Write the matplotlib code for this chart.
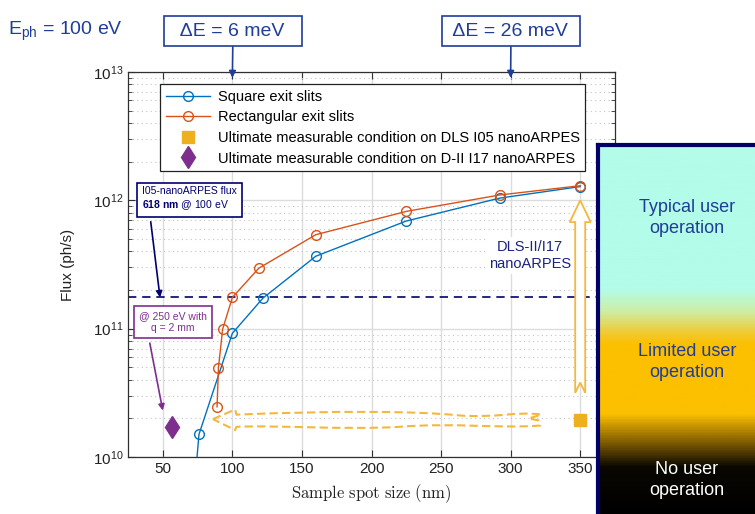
import matplotlib
matplotlib.use('Agg')
import numpy as np
import matplotlib.pyplot as plt
from matplotlib.colors import LinearSegmentedColormap
from matplotlib.patches import Polygon, PathPatch
from matplotlib.path import Path

plt.rcParams['font.family'] = ['Liberation Sans', 'DejaVu Sans']
plt.rcParams['mathtext.fontset'] = 'custom'
plt.rcParams['mathtext.rm'] = 'Liberation Sans'
plt.rcParams['mathtext.bf'] = 'Liberation Sans:bold'
plt.rcParams['mathtext.it'] = 'Liberation Sans:italic'

# data (spot size in nm, flux in ph/s)
square_x = [70, 76, 100, 122, 160, 225, 292, 350]
square_flux = [2.6e9, 1.5e10, 9.2e10, 1.73e11, 3.67e11, 6.9e11, 1.04e12, 1.28e12]
rect_x = [89, 90, 93, 100, 119, 160, 225, 292, 350]
rect_flux = [2.46e10, 4.95e10, 9.9e10, 1.75e11, 2.96e11, 5.4e11, 8.2e11, 1.1e12, 1.3e12]
i05_x = [350]
i05_flux = [1.94e10]
i17_x = [56.5]
i17_flux = [1.71e10]
i05_618nm_flux = 1.75e11
xticks = [50, 100, 150, 200, 250, 300, 350]

BLUE = '#0072BD'
ORANGE = '#D95319'
GOLD = '#EDB120'
PURPLE = '#7E2F8E'
NAVY = '#000070'
TXT_BLUE = '#1f3d99'
ARROW_GOLD = '#f3b83c'

W, H = 755, 514


def fx(px):
    return px / W


def fy(py):
    return 1 - py / H


fig = plt.figure(figsize=(W / 100, H / 100), dpi=100)
ax = fig.add_axes([fx(128), fy(457), (615 - 128) / W, (457 - 72) / H])

ax.set_yscale('log')
ax.set_xlim(25, 375)
ax.set_ylim(1e10, 1e13)
ax.set_xticks(xticks)

ax.grid(True, which='major', color='#dcdcdc', lw=1.0, ls='-')
ax.grid(True, which='minor', axis='y', color='#c4c4c4', lw=0.8, ls=(0, (1, 3)))
ax.set_axisbelow(True)

ax.plot(square_x, square_flux, '-o', color=BLUE, lw=1.0, ms=7, mfc='none',
        mew=1.0, label='Square exit slits')
ax.plot(rect_x, rect_flux, '-o', color=ORANGE, lw=1.0, ms=7, mfc='none',
        mew=1.0, label='Rectangular exit slits')
ax.plot(i05_x, i05_flux, 's', color=GOLD, ms=9, ls='none',
        label='Ultimate measurable condition on DLS I05 nanoARPES')
ax.plot(i17_x, i17_flux, 'd', color=PURPLE, ms=11.5, ls='none',
        label='Ultimate measurable condition on D-II I17 nanoARPES')

ax.axhline(i05_618nm_flux, color=NAVY, ls='--', lw=1.2, dashes=(5, 3.5), zorder=1.5)

# vertical hollow arrow at 350 nm
arr_x = [350, 357.5, 353.6, 353.6, 350, 346.4, 346.4, 342.5]
arr_y = [12.0, 11.83, 11.83, 10.5, 10.58, 10.5, 11.83, 11.83]
ax.add_patch(Polygon(np.column_stack([arr_x, 10 ** np.array(arr_y)]), closed=True,
                     fc='white', ec=ARROW_GOLD, lw=1.3, zorder=2.5))

# wavy dashed arrow pointing to smaller spots
verts = [(86, 10.295), (102, 10.37), (103, 10.33),
         (170, 10.36), (230, 10.36), (262, 10.325),
         (290, 10.30), (305, 10.36), (322, 10.33),
         (313, 10.30), (320, 10.285), (321, 10.245),
         (290, 10.22), (260, 10.27), (220, 10.235),
         (180, 10.21), (130, 10.25), (103, 10.235),
         (102, 10.21), (86, 10.295)]
codes = [Path.MOVETO, Path.LINETO, Path.LINETO,
         Path.CURVE4, Path.CURVE4, Path.CURVE4,
         Path.CURVE4, Path.CURVE4, Path.CURVE4,
         Path.LINETO, Path.LINETO, Path.LINETO,
         Path.CURVE4, Path.CURVE4, Path.CURVE4,
         Path.CURVE4, Path.CURVE4, Path.CURVE4,
         Path.LINETO, Path.CLOSEPOLY]
verts = [(vx, 10 ** vy) for vx, vy in verts]
ax.add_patch(PathPatch(Path(verts, codes), fc='none', ec=ARROW_GOLD, lw=1.5,
                       ls=(0, (4, 2)), zorder=2.5, joinstyle='miter'))

for side in ['top', 'bottom', 'left', 'right']:
    ax.spines[side].set_color('#303030')
    ax.spines[side].set_linewidth(0.9)
ax.tick_params(which='both', direction='in', top=True, right=True,
               labelsize=11, colors='#303030', labelcolor='#222222')
ax.tick_params(which='major', length=5)
ax.tick_params(which='minor', length=3)

ax.set_ylabel('Flux (ph/s)', fontsize=11, color='#222222')
ax.yaxis.set_label_coords((75 - 128) / 487, 0.5)
ax.set_xlabel(r'$\mathrm{Sample\ spot\ size\ (nm)}$', fontsize=12,
              math_fontfamily='cm', color='#222222')
ax.xaxis.set_label_coords(0.5, -(482 - 457) / 385)

leg = ax.legend(loc='upper left', bbox_to_anchor=((160 - 128) / 487, (457 - 84) / 385),
                borderaxespad=0, fontsize=10.5, handlelength=3.0, handletextpad=0.55,
                labelspacing=0.45, borderpad=0.4, fancybox=False, framealpha=1,
                edgecolor='#222222')
leg.get_frame().set_linewidth(0.9)

# header texts and boxes
fig.text(fx(8), fy(31), r'E$_{\mathrm{ph}}$ = 100 eV', fontsize=14, color=TXT_BLUE,
         ha='left', va='center')
for label, xv, xc in [('  ΔE = 6 meV  ', 100, 233), (' ΔE = 26 meV ', 300, 511)]:
    ax.annotate(label, xy=(xv, 9.0e12), xycoords='data',
                xytext=(fx(xc), fy(31)), textcoords='figure fraction',
                ha='center', va='center', fontsize=14, color=TXT_BLUE,
                bbox=dict(boxstyle='square,pad=0.35', fc='white', ec=TXT_BLUE, lw=1.2),
                arrowprops=dict(arrowstyle='-|>', color=TXT_BLUE, lw=1.2,
                                mutation_scale=10, shrinkA=0, shrinkB=0),
                annotation_clip=False)

ax.annotate('I05-nanoARPES flux\n' + r'$\mathbf{618\ nm}$ @ 100 eV',
            xy=(48, i05_618nm_flux), xycoords='data',
            xytext=(fx(142), fy(199)), textcoords='figure fraction',
            ha='left', va='center', fontsize=7.5, color=NAVY, linespacing=1.3,
            bbox=dict(boxstyle='square,pad=0.45', fc='white', ec=NAVY, lw=1.2),
            arrowprops=dict(arrowstyle='-|>', color=NAVY, lw=1.2, mutation_scale=9,
                            relpos=(0.08, 0.0), shrinkA=3, shrinkB=0),
            zorder=6)

ax.annotate('@ 250 eV with\nq = 2 mm', xy=(50, 2.3e10), xycoords='data',
            xytext=(fx(173), fy(322)), textcoords='figure fraction',
            ha='center', va='center', fontsize=7.5, color=PURPLE, linespacing=1.3,
            bbox=dict(boxstyle='square,pad=0.5', fc='white', ec=PURPLE, lw=1.2),
            arrowprops=dict(arrowstyle='-|>', color=PURPLE, lw=1.2, mutation_scale=9,
                            relpos=(0.13, 0.0), shrinkA=3, shrinkB=0),
            zorder=6)

ax.text(314, 3.7e11, 'DLS-II/I17\nnanoARPES', fontsize=10.5, color='#1a237e',
        ha='center', va='center', linespacing=1.3,
        bbox=dict(boxstyle='square,pad=0.2', fc='white', ec='none'), zorder=3)

# operation regime panel on the right
cax = fig.add_axes([fx(598), 0, 1 - fx(598), fy(145)], zorder=10)
cmap = LinearSegmentedColormap.from_list('ops', [
    (0.0, '#b3fce9'), (0.39, '#b3fce9'), (0.45, '#cdeea6'), (0.51, '#f2c930'),
    (0.54, '#fcc000'), (0.73, '#fcc000'), (0.80, '#8c6600'), (0.875, '#0a0700'),
    (1.0, '#000000')])
cax.imshow(np.linspace(0, 1, 400).reshape(-1, 1), aspect='auto', cmap=cmap,
           extent=(0, 1, 0, 1), origin='upper')
cax.set_xlim(0, 1)
cax.set_ylim(0, 1)
cax.set_xticks([])
cax.set_yticks([])
for side in ['right', 'bottom']:
    cax.spines[side].set_visible(False)
for side in ['left', 'top']:
    cax.spines[side].set_color('#000066')
    cax.spines[side].set_linewidth(3)

cax.text(0.567, 0.802, 'Typical user\noperation', transform=cax.transAxes,
         ha='center', va='center', fontsize=13, color=TXT_BLUE, linespacing=1.3)
cax.text(0.567, 0.412, 'Limited user\noperation', transform=cax.transAxes,
         ha='center', va='center', fontsize=13, color=TXT_BLUE, linespacing=1.3)
cax.text(0.567, 0.092, 'No user\noperation', transform=cax.transAxes,
         ha='center', va='center', fontsize=13, color='white', linespacing=1.3)

plt.savefig('out.png', dpi=100)
plt.close()
